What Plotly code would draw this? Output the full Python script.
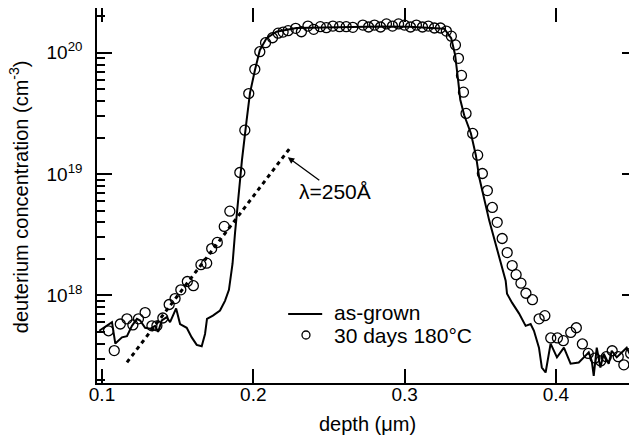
import plotly.graph_objects as go

# as-grown profile (depth in um, D concentration in cm^-3)
grown_depth = [0.0982, 0.1011, 0.1066, 0.1088, 0.1132, 0.1165, 0.1198, 0.1231, 0.1252, 0.1285,
               0.1318, 0.1351, 0.1371, 0.1395, 0.1428, 0.1450, 0.1490, 0.1516, 0.1560, 0.1593,
               0.1626, 0.1659, 0.1681, 0.1694, 0.1733, 0.1780, 0.1813, 0.1839, 0.1863, 0.1879,
               0.1898, 0.1925, 0.1956, 0.1978, 0.2011, 0.2043, 0.2088, 0.2153, 0.2285, 0.2439,
               0.2637, 0.2834, 0.3032, 0.3163, 0.3262, 0.3308, 0.3334, 0.3354, 0.3368, 0.3394,
               0.3438, 0.3471, 0.3493, 0.3559, 0.3624, 0.3668, 0.3677, 0.3710, 0.3756, 0.3800,
               0.3833, 0.3855, 0.3888, 0.3907, 0.3932, 0.3965, 0.4007, 0.4053, 0.4097, 0.4151,
               0.4196, 0.4217, 0.4237, 0.4250, 0.4270, 0.4294, 0.4316, 0.4349, 0.4369, 0.4402,
               0.4435, 0.4468, 0.4493, 0.4526]
grown_conc = [5.1e17, 5.4e17, 6.0e17, 4.0e17, 4.5e17, 4.6e17, 5.6e17, 6.4e17, 6.2e17, 5.4e17,
              5.3e17, 5.6e17, 5.0e17, 6.2e17, 6.6e17, 6.0e17, 7.8e17, 5.8e17, 5.4e17, 4.5e17,
              3.9e17, 3.8e17, 4.8e17, 6.4e17, 6.8e17, 7.5e17, 9.0e17, 1.11e18, 1.83e18, 3.24e18,
              6.05e18, 1.30e19, 2.78e19, 4.65e19, 7.2e19, 1.05e20, 1.32e20, 1.49e20, 1.60e20, 1.62e20,
              1.64e20, 1.65e20, 1.64e20, 1.60e20, 1.58e20, 1.32e20, 9.6e19, 5.9e19, 4.1e19, 3.05e19,
              2.17e19, 1.43e19, 9.4e18, 4.15e18, 2.13e18, 1.32e18, 1.03e18, 8.7e17, 7.1e17, 5.6e17,
              5.8e17, 5.1e17, 3.7e17, 2.54e17, 2.31e17, 4.0e17, 3.08e17, 3.7e17, 2.73e17, 2.79e17,
              3.18e17, 3.38e17, 2.88e17, 2.17e17, 3.7e17, 2.54e17, 3.3e17, 2.73e17, 3.49e17, 3.08e17,
              3.38e17, 3.7e17, 3.18e17, 3.49e17]

# 30 days at 180 C
ann_depth = [0.1043, 0.1081, 0.1121, 0.1165, 0.1204, 0.1241, 0.1285, 0.1330, 0.1363, 0.1402,
             0.1444, 0.1483, 0.1521, 0.1564, 0.1604, 0.1654, 0.1692, 0.1725, 0.1762, 0.1808,
             0.1845, 0.1911, 0.1944, 0.1970, 0.2010, 0.2043, 0.2081, 0.2127, 0.2164, 0.2197,
             0.2230, 0.2280, 0.2318, 0.2361, 0.2399, 0.2443, 0.2483, 0.2526, 0.2570, 0.2614,
             0.2658, 0.2724, 0.2762, 0.2801, 0.2841, 0.2880, 0.2920, 0.2960, 0.2999, 0.3039,
             0.3078, 0.3118, 0.3157, 0.3197, 0.3237, 0.3276, 0.3309, 0.3336, 0.3356, 0.3376,
             0.3389, 0.3406, 0.3450, 0.3483, 0.3514, 0.3547, 0.3580, 0.3612, 0.3645, 0.3678,
             0.3711, 0.3737, 0.3769, 0.3802, 0.3845, 0.3889, 0.3927, 0.3966, 0.4010, 0.4049,
             0.4098, 0.4135, 0.4175, 0.4214, 0.4258, 0.4296, 0.4333, 0.4372, 0.4412, 0.4449,
             0.4494, 0.4522]
ann_conc = [5.1e17, 3.5e17, 5.8e17, 6.4e17, 5.7e17, 6.4e17, 7.2e17, 5.6e17, 5.6e17, 6.5e17,
            8.4e17, 9.4e17, 1.11e18, 1.30e18, 1.20e18, 1.79e18, 1.84e18, 2.43e18, 2.73e18, 3.70e18,
            4.94e18, 1.03e19, 2.30e19, 4.61e19, 7.3e19, 1.02e20, 1.21e20, 1.33e20, 1.45e20, 1.48e20,
            1.52e20, 1.59e20, 1.49e20, 1.66e20, 1.56e20, 1.64e20, 1.61e20, 1.66e20, 1.64e20, 1.64e20,
            1.62e20, 1.69e20, 1.63e20, 1.69e20, 1.63e20, 1.73e20, 1.66e20, 1.73e20, 1.69e20, 1.63e20,
            1.69e20, 1.63e20, 1.66e20, 1.60e20, 1.60e20, 1.51e20, 1.37e20, 1.16e20, 9.0e19, 6.5e19,
            4.73e19, 3.16e19, 2.16e19, 1.43e19, 1.01e19, 7.3e18, 5.3e18, 4.0e18, 2.94e18, 2.25e18,
            1.76e18, 1.48e18, 1.26e18, 1.04e18, 9.2e17, 6.4e17, 6.8e17, 4.45e17, 4.45e17, 4.23e17,
            4.94e17, 5.4e17, 3.97e17, 3.32e17, 3.04e17, 2.88e17, 3.12e17, 3.49e17, 3.12e17, 2.67e17,
            3.32e17, 3.70e17]

# exponential tail guide, lambda = 250 A
fit_depth = [0.1165, 0.2241]
fit_conc = [2.8e17, 1.63e19]

x_ticks = [0.1, 0.2, 0.3, 0.4]
x_labels = ["0.1", "0.2", "0.3", "0.4"]
y_ticks = [1e18, 1e19, 1e20]
y_labels = ["10<sup>18</sup>", "10<sup>19</sup>", "10<sup>20</sup>"]

font = "Liberation Sans, Arial, sans-serif"

fig = go.Figure()
fig.add_trace(go.Scatter(x=fit_depth, y=fit_conc, mode="lines",
                         line=dict(color="black", width=3, dash="4px,4px"), showlegend=False))
fig.add_trace(go.Scatter(x=grown_depth, y=grown_conc, mode="lines", name="as-grown",
                         line=dict(color="black", width=2)))
fig.add_trace(go.Scatter(x=ann_depth, y=ann_conc, mode="markers", name="30 days 180°C",
                         marker=dict(symbol="circle-open", size=10, color="black",
                                     line=dict(width=1.3, color="black"))))

minor_vals = [float(m) * 10.0 ** e for e in range(17, 21) for m in range(2, 10)]

# page body adds an 8px offset, so the figure is 8px smaller than the window
fig.update_layout(
    width=629, height=432,
    margin=dict(l=89, r=0, t=0, b=57),
    paper_bgcolor="white", plot_bgcolor="white",
    font=dict(family=font, size=19, color="black"),
    showlegend=False,
)
fig.update_xaxes(range=[0.0967, 0.4536], tickvals=x_ticks, ticktext=x_labels,
                 ticks="inside", ticklen=14, tickwidth=1.5, tickcolor="black",
                 ticklabelstandoff=-7,
                 showline=True, linecolor="black", linewidth=1.5, mirror="ticks",
                 showgrid=False, zeroline=False, automargin=False)
fig.update_yaxes(type="log", range=[17.277, 20.369], tickvals=y_ticks, ticktext=y_labels,
                 ticks="inside", ticklen=15, tickwidth=1.5, tickcolor="black",
                 ticklabelstandoff=9,
                 minor=dict(tickvals=minor_vals, ticks="inside", ticklen=8,
                            tickwidth=1.5, tickcolor="black", showgrid=False),
                 showline=True, linecolor="black", linewidth=1.5, mirror="ticks",
                 showgrid=False, zeroline=False, automargin=False)

# axis titles
fig.add_annotation(text="depth (μm)", xref="paper", yref="paper", x=0.5, y=-0.109,
                   xanchor="center", yanchor="middle", showarrow=False, font=dict(size=20))
fig.add_annotation(text="deuterium concentration (cm<sup>-3</sup>)", xref="paper", yref="paper",
                   x=-0.146, y=0.496, textangle=-90, xanchor="center", yanchor="middle",
                   showarrow=False, font=dict(size=20))

# lambda label and arrow
fig.add_annotation(text="", x=0.2228, y=19.138, xref="x", yref="y", ax=33, ay=24,
                   showarrow=True, arrowhead=2, arrowsize=1, arrowwidth=1.3, arrowcolor="black")
fig.add_annotation(text="λ=250Å", x=0.2228, y=19.138, xref="x", yref="y",
                   showarrow=False, xshift=47, yshift=-34, font=dict(size=21))

# hand-drawn legend
fig.add_shape(type="line", xref="paper", yref="paper", x0=0.354, x1=0.417, y0=0.184, y1=0.184,
              line=dict(color="black", width=2))
fig.add_shape(type="circle", xref="paper", yref="paper", x0=0.3796, x1=0.3944, y0=0.1173, y1=0.1387,
              line=dict(color="black", width=1.3))
fig.add_annotation(text="as-grown", xref="paper", yref="paper", x=0.435, y=0.189,
                   xanchor="left", yanchor="middle", showarrow=False, font=dict(size=21))
fig.add_annotation(text="30 days 180°C", xref="paper", yref="paper", x=0.435, y=0.128,
                   xanchor="left", yanchor="middle", showarrow=False, font=dict(size=21))

fig.write_html("out.html")
